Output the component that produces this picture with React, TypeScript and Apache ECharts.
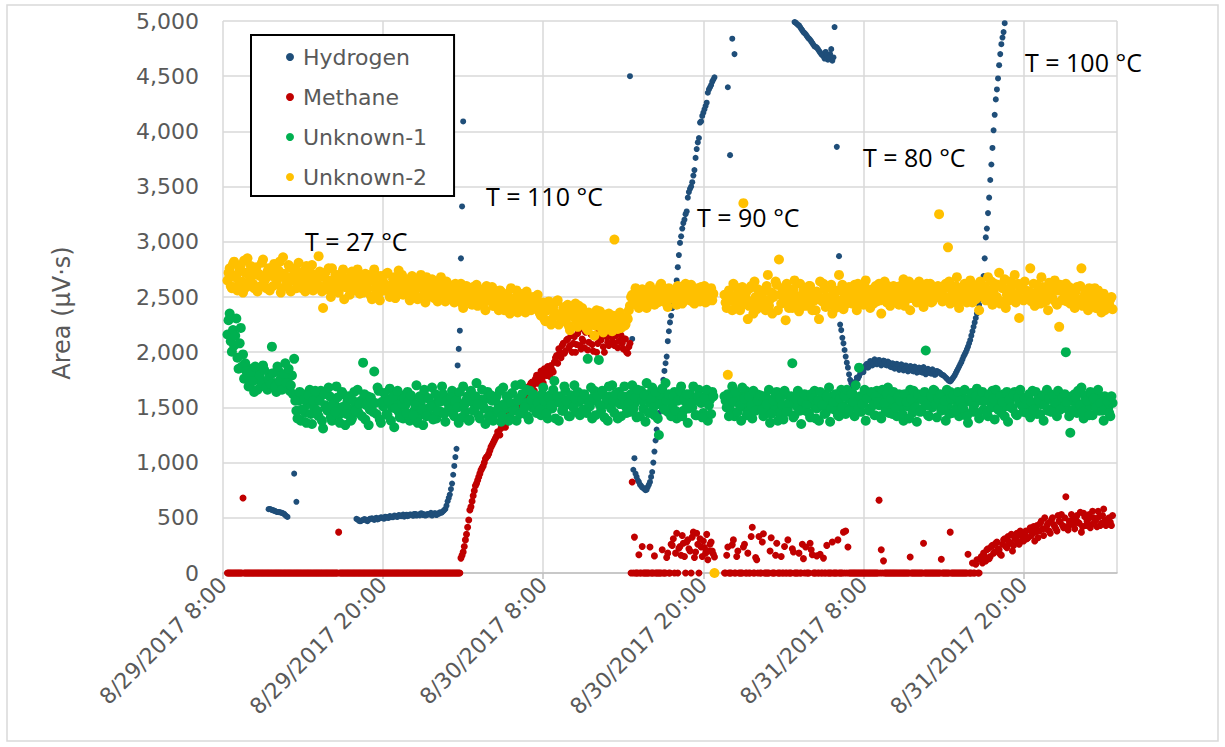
import React, { useEffect, useRef } from "react";
import * as echarts from "echarts";

// GC peak areas. Injections run every 5 minutes from 8/29/2017 8:20; each
// series is kept as two interleaved runs: the on-the-10-minute injections and
// the ones 5 minutes after them. Time axis is in hours after 8/29/2017 8:00.
const START_HOUR = 1 / 3;
const STEP_HOUR = 1 / 6;
const X_MAX_HOURS = 67;
const X_STEP_HOURS = 12;
const Y_MAX = 5000;
const Y_STEP = 500;

const _ = null;

const hydrogen: (number | null)[] = [
  _, _, _, _, _, _, _, _, _, _, _, _, _, _, _, _, _, _, _, 580,
  572, 565, 555, 553, 548, 540, 525, 508, _, _, 900, 645, _, _, _, _, _, _, _, _,
  _, _, _, _, _, _, _, _, _, _, _, _, _, _, _, _, _, _, 490, 475,
  470, 480, 485, 470, 490, 495, 480, 500, 490, 505, 495, 510, 500, 515, 505, 520, 510, 525, 515, 530,
  520, 515, 530, 525, 535, 520, 530, 540, 525, 520, 535, 530, 520, 540, 525, 535, 545, 560, 580, 650,
  710, 810, 970, 1125, 2030, 2850, 4090, _, _, _, _, _, _, _, _, _, _, _, _, _,
  _, _, _, _, _, _, _, _, _, _, _, _, _, _, _, _, _, _, _, _,
  _, _, _, _, _, _, _, _, _, _, _, _, _, _, _, _, _, _, _, _,
  _, _, _, _, _, _, _, _, _, _, _, _, _, _, _, _, _, _, _, _,
  _, 4500, 2120, 1040, 870, 825, 790, 770, 750, 780, 825, 915, 1100, 1300, 1450, 1600, 1750, 1900, 2100, 2270,
  2400, 2500, 2650, 2880, 3050, 3170, 3250, 3400, 3480, 3540, 3650, 3840, 3940, 4090, 4170, 4230, 4350, 4400, 4450, 4490,
  _, _, _, _, _, 4400, 3785, 4840, 4700, _, _, _, _, _, _, _, _, _, _, _,
  _, _, _, _, _, _, _, _, _, _, _, _, _, _, _, 4990, 4975, 4960, 4930, 4900,
  4880, 4850, 4830, 4800, 4770, 4760, 4730, 4700, 4680, 4720, 4650, 4700, 4640, 4945, 3860, 2870, 2200, 2080, 1960, 1860,
  1750, 1690, 1720, 1770, 1780, 1840, 1820, 1880, 1860, 1920, 1880, 1935, 1890, 1930, 1880, 1925, 1885, 1915, 1870, 1900,
  1850, 1895, 1840, 1890, 1835, 1880, 1825, 1875, 1830, 1870, 1815, 1860, 1820, 1865, 1800, 1850, 1810, 1845, 1795, 1830,
  1820, 1800, 1790, 1770, 1750, 1735, 1760, 1790, 1830, 1870, 1910, 1960, 2000, 2050, 2110, 2190, 2270, 2350, 2430, 2550,
  2690, 3040, 3260, 3560, 3850, 4150, 4380, 4600, 4790, 4900, _, _, _, _, _, _, _, _, _, _,
  _, _, _, _, _, _, _, _, _, _, _, _, _, _, _, _, _, _, _, _,
  _, _, _, _, _, _, _, _, _, _, _, _, _, _, _, _, _, _, _,
];

const hydrogenMid: (number | null)[] = [
  _, _, _, _, _, _, _, _, _, _, _, _, _, _, _, _, _, _, 578, 575,
  568, 560, 552, 550, 545, 535, 515, _, _, _, _, _, _, _, _, _, _, _, _, _,
  _, _, _, _, _, _, _, _, _, _, _, _, _, _, _, _, _, _, 485, 470,
  478, 488, 475, 482, 492, 488, 495, 485, 498, 502, 492, 508, 498, 512, 505, 518, 508, 522, 515, 510,
  528, 520, 530, 518, 535, 528, 522, 538, 532, 525, 530, 545, 528, 540, 538, 550, 550, 570, 610, 680,
  760, 890, 1050, 1880, 2195, 3320, _, _, _, _, _, _, _, _, _, _, _, _, _, _,
  _, _, _, _, _, _, _, _, _, _, _, _, _, _, _, _, _, _, _, _,
  _, _, _, _, _, _, _, _, _, _, _, _, _, _, _, _, _, _, _, _,
  _, _, _, _, _, _, _, _, _, _, _, _, _, _, _, _, _, _, _, _,
  _, _, 935, 900, 840, 800, 775, 760, 755, 800, 870, 1000, 1200, 1380, 1520, 1680, 1830, 1960, 2190, 2330,
  2450, 2560, 2770, 2990, 3120, 3200, 3275, 3450, 3500, 3600, 3760, 3900, 4080, 4140, 4200, 4260, 4380, 4420, 4470, _,
  _, _, _, _, _, _, _, _, _, _, _, _, _, _, _, _, _, _, _, _,
  _, _, _, _, _, _, _, _, _, _, _, _, _, _, _, 4985, 4965, 4945, 4915, 4890,
  4865, 4840, 4815, 4785, 4765, 4745, 4715, 4690, 4660, 4690, 4670, 4745, 4670, _, _, 2250, 2130, 2020, 1905, 1800,
  1720, 1700, 1735, 1760, 1805, 1830, 1855, 1895, 1870, 1915, 1895, 1920, 1900, 1915, 1895, 1920, 1880, 1905, 1865, 1895,
  1860, 1885, 1850, 1880, 1845, 1870, 1835, 1870, 1825, 1860, 1820, 1855, 1815, 1850, 1810, 1840, 1805, 1830, 1800, 1820,
  1810, 1795, 1780, 1760, 1740, 1745, 1775, 1810, 1850, 1890, 1935, 1980, 2025, 2080, 2150, 2230, 2310, 2385, 2480, 2620,
  2850, 3120, 3400, 3700, 4010, 4290, 4480, 4700, 4850, 4980, _, _, _, _, _, _, _, _, _, _,
  _, _, _, _, _, _, _, _, _, _, _, _, _, _, _, _, _, _, _, _,
  _, _, _, _, _, _, _, _, _, _, _, _, _, _, _, _, _, _,
];

const methane: (number | null)[] = [
  0, 0, 0, 0, 0, 0, 0, 680, 0, 0, 0, 0, 0, 0, 0, 0, 0, 0, 0, 0,
  0, 0, 0, 0, 0, 0, 0, 0, 0, 0, 0, 0, 0, 0, 0, 0, 0, 0, 0, 0,
  0, 0, 0, 0, 0, 0, 0, 0, 0, 0, 370, 0, 0, 0, 0, 0, 0, 0, 0, 0,
  0, 0, 0, 0, 0, 0, 0, 0, 0, 0, 0, 0, 0, 0, 0, 0, 0, 0, 0, 0,
  0, 0, 0, 0, 0, 0, 0, 0, 0, 0, 0, 0, 0, 0, 0, 0, 0, 0, 0, 0,
  0, 0, 0, 0, 0, 135, 190, 300, 415, 570, 650, 745, 810, 870, 930, 970, 1035, 1060, 1110, 1160,
  1200, 1240, 1260, 1310, 1350, 1320, 1420, 1440, 1400, 1520, 1470, 1590, 1540, 1630, 1660, 1600, 1700, 1730, 1650, 1790,
  1760, 1830, 1720, 1800, 1870, 1780, 1840, 1910, 1970, 2030, 1950, 2080, 2010, 2120, 2060, 2000, 2140, 2070, 2200, 2030,
  2100, 2180, 2020, 2230, 2070, 2150, 2000, 2200, 2110, 2050, 2170, 2090, 2240, 2130, 2060, 2190, 2100, 2150, 2030, 2120,
  1990, 2080, 825, 325, 0, 165, 0, 0, 0, 0, 235, 0, 155, 0, 0, 0, 0, 0, 180, 0,
  250, 0, 360, 225, 160, 270, 0, 300, 200, 325, 140, 360, 0, 235, 290, 180, 120, 260, 200, 145,
  _, _, _, _, 0, 235, 0, 255, 0, 150, 0, 0, 235, 0, 180, 0, 415, 0, 120, 330,
  0, 355, 0, 0, 200, 0, 0, 270, 0, 150, 0, 0, 300, 0, 220, 0, 0, 180, 0, 130,
  235, 0, 270, 165, 0, 155, 0, 0, 135, 0, 0, 0, 280, 0, 0, 0, 0, 370, 380, 235,
  0, 0, 0, 0, 0, 0, 0, 0, 0, 0, 0, 0, 0, 660, 210, 110, 0, 0, 0, 0,
  0, 0, 0, 0, 0, 0, 0, 145, 0, 0, 0, 0, 0, 270, 0, 0, 0, 0, 0, 0,
  0, 125, 0, 0, 0, 370, 0, 0, 0, 0, 0, 0, 0, 170, 0, 90, 0, 120, 0, 150,
  180, 110, 220, 150, 250, 190, 280, 210, 160, 300, 240, 330, 270, 200, 310, 360, 260, 340, 290, 380,
  320, 410, 360, 290, 430, 380, 470, 340, 400, 450, 360, 500, 420, 380, 470, 530, 410, 690, 390, 440,
  480, 400, 520, 450, 370, 540, 430, 490, 410, 560, 470, 420, 510, 450, 580, 430, 490, 460, 520,
];

const methaneMid: (number | null)[] = [
  0, 0, 0, 0, 0, 0, 0, 0, 0, 0, 0, 0, 0, 0, 0, 0, 0, 0, 0, 0,
  0, 0, 0, 0, 0, 0, 0, 0, 0, 0, 0, 0, 0, 0, 0, 0, 0, 0, 0, 0,
  0, 0, 0, 0, 0, 0, 0, 0, 0, 0, 0, 0, 0, 0, 0, 0, 0, 0, 0, 0,
  0, 0, 0, 0, 0, 0, 0, 0, 0, 0, 0, 0, 0, 0, 0, 0, 0, 0, 0, 0,
  0, 0, 0, 0, 0, 0, 0, 0, 0, 0, 0, 0, 0, 0, 0, 0, 0, 0, 0, 0,
  0, 0, 0, 0, 0, 160, 240, 350, 480, 600, 700, 790, 840, 900, 950, 1000, 1050, 1080, 1140, 1180,
  1220, 1280, 1250, 1340, 1380, 1360, 1450, 1400, 1480, 1500, 1550, 1520, 1610, 1580, 1680, 1640, 1720, 1700, 1760, 1720,
  1800, 1760, 1850, 1790, 1830, 1880, 1820, 1950, 1900, 2000, 2060, 1990, 2110, 2040, 2150, 2080, 2000, 2170, 2060, 2120,
  2040, 2210, 2090, 2160, 2010, 2250, 2080, 2130, 2180, 2000, 2140, 2060, 2200, 2090, 2150, 2040, 2170, 2080, 2120, 2000,
  2050, 0, 0, 0, 0, 0, 240, 0, 0, 0, 0, 0, 0, 0, 0, 210, 0, 140, 0, 260,
  310, 180, 0, 240, 340, 150, 280, 220, 0, 370, 190, 260, 310, 150, 230, 350, 200, 280, 170, _,
  _, _, _, 0, 160, 0, 0, 300, 0, 200, 0, 0, 260, 0, 0, 330, 0, 140, 0, 0,
  280, 0, 0, 0, 320, 0, 160, 0, 0, 0, 240, 0, 0, 0, 190, 0, 0, 0, 260, 0,
  0, 0, 210, 0, 0, 0, 170, 0, 0, 250, 0, 0, 0, 0, 300, 0, 0, 0, 0, 0,
  0, 0, 0, 0, 0, 0, 0, 0, 0, 0, 0, 0, 0, 0, 0, 0, 0, 0, 0, 0,
  0, 0, 0, 0, 0, 0, 0, 0, 0, 0, 0, 0, 0, 0, 0, 0, 0, 0, 0, 0,
  0, 0, 0, 0, 0, 0, 0, 0, 0, 0, 0, 0, 0, 0, 0, 0, 80, 0, 130, 90,
  150, 210, 130, 240, 180, 270, 220, 170, 260, 310, 230, 280, 350, 250, 320, 280, 380, 300, 350, 310,
  390, 340, 420, 370, 320, 450, 400, 500, 430, 380, 480, 440, 400, 520, 460, 430, 500, 420, 470, 530,
  440, 500, 460, 550, 420, 510, 470, 530, 440, 500, 480, 560, 430, 520, 470, 440, 500, 430,
];

const unknown1: (number | null)[] = [
  2160, 2350, 2005, 2060, 2305, 1850, 2220, 1980, 1900, 1780, 1700, 1850, 1640, 1760, 1820, 1690, 1880, 1730, 1660, 1800,
  2050, 1720, 1640, 1830, 1760, 1680, 1900, 1740, 1650, 1790, 1940, 1470, 1560, 1380, 1620, 1450, 1530, 1660, 1350, 1500,
  1580, 1420, 1650, 1310, 1520, 1470, 1600, 1380, 1540, 1690, 1430, 1500, 1620, 1340, 1560, 1480, 1400, 1640, 1520, 1450,
  1560, 1905, 1390, 1600, 1480, 1530, 1825, 1440, 1650, 1360, 1510, 1580, 1430, 1670, 1500, 1320, 1550, 1460, 1610, 1400,
  1520, 1640, 1380, 1560, 1470, 1700, 1420, 1550, 1340, 1600, 1490, 1430, 1680, 1530, 1400, 1580, 1460, 1620, 1370, 1540,
  1500, 1650, 1420, 1580, 1360, 1530, 1690, 1460, 1600, 1390, 1550, 1480, 1720, 1430, 1570, 1510, 1350, 1640, 1470, 1560,
  1440, 1600, 1520, 1370, 1680, 1490, 1560, 1410, 1630, 1500, 1380, 1580, 1710, 1460, 1540, 1420, 1650, 1500, 1600, 1450,
  1560, 1430, 1680, 1520, 1400, 1610, 1490, 1740, 1550, 1380, 1600, 1470, 1650, 1530, 1420, 1580, 1700, 1460, 1550, 1620,
  1480, 1590, 1940, 1510, 1400, 1650, 1560, 1930, 1470, 1620, 1530, 1380, 1600, 1700, 1450, 1550, 1640, 1420, 1580, 1510,
  1600, 1460, 1700, 1530, 1410, 1580, 1650, 1490, 1370, 1620, 1540, 1680, 1430, 1560, 1250, 1610, 1500, 1720, 1460, 1580,
  1520, 1640, 1400, 1590, 1690, 1470, 1550, 1360, 1620, 1500, 1580, 1430, 1660, 1540, 1450, 1600, 1380, 1570, 1640, _,
  _, _, _, _, 1560, 1620, 1480, 1690, 1420, 1550, 1600, 1380, 1510, 1650, 1460, 1570, 1400, 1530, 1620, 1490,
  1550, 1420, 1600, 1480, 1360, 1570, 1510, 1640, 1450, 1530, 1390, 1620, 1480, 1560, 1900, 1430, 1510, 1600, 1350, 1540,
  1470, 1580, 1410, 1530, 1650, 1490, 1380, 1560, 1620, 1450, 1520, 1370, 1600, 1480, 1550, 1420, 1660, 1510, 1440, 1580,
  1500, 1630, 1420, 1560, 1860, 1460, 1540, 1380, 1610, 1490, 1570, 1430, 1650, 1520, 1400, 1590, 1470, 1680, 1530, 1440,
  1560, 1420, 1620, 1500, 1380, 1590, 1510, 1660, 1450, 1540, 1370, 1600, 1480, 1560, 2015, 1430, 1580, 1500, 1650, 1410,
  1540, 1470, 1600, 1380, 1520, 1640, 1450, 1570, 1500, 1420, 1610, 1480, 1550, 1360, 1590, 1460, 1530, 1670, 1400, 1560,
  1480, 1600, 1420, 1550, 1650, 1390, 1520, 1580, 1450, 1620, 1510, 1370, 1570, 1490, 1640, 1430, 1540, 1600, 1460, 1520,
  1580, 1410, 1650, 1500, 1440, 1600, 1530, 1380, 1560, 1470, 1620, 1490, 1550, 1420, 1600, 1520, 1540, 2000, 1480, 1270,
  1560, 1620, 1450, 1530, 1680, 1400, 1580, 1500, 1640, 1430, 1550, 1610, 1470, 1530, 1380, 1590, 1490, 1420, 1540,
];

const unknown1Mid: (number | null)[] = [
  2290, 2100, 2200, 2150, 1950, 2080, 1870, 1760, 1830, 1690, 1810, 1740, 1870, 1660, 1790, 1720, 1840, 1680, 1760, 1710,
  1810, 1690, 1870, 1740, 1660, 1800, 1720, 1850, 1700, 1620, 1560, 1400, 1640, 1480, 1570, 1360, 1610, 1440, 1560, 1650,
  1470, 1560, 1380, 1620, 1490, 1680, 1410, 1530, 1460, 1590, 1360, 1640, 1510, 1440, 1600, 1380, 1560, 1470, 1660, 1530,
  1420, 1620, 1520, 1340, 1590, 1460, 1540, 1680, 1390, 1550, 1630, 1440, 1560, 1380, 1600, 1490, 1650, 1410, 1530, 1580,
  1450, 1560, 1610, 1430, 1520, 1360, 1600, 1480, 1660, 1420, 1580, 1510, 1390, 1620, 1470, 1550, 1690, 1440, 1560, 1480,
  1590, 1440, 1560, 1500, 1640, 1410, 1520, 1570, 1380, 1650, 1470, 1600, 1530, 1400, 1660, 1490, 1580, 1420, 1610, 1380,
  1570, 1480, 1650, 1420, 1530, 1600, 1380, 1540, 1470, 1700, 1560, 1440, 1620, 1500, 1660, 1390, 1570, 1620, 1480, 1540,
  1480, 1620, 1560, 1450, 1590, 1520, 1660, 1400, 1600, 1540, 1470, 1690, 1560, 1420, 1610, 1500, 1580, 1640, 1430, 1570,
  1620, 1450, 1540, 1680, 1590, 1430, 1600, 1520, 1650, 1410, 1580, 1690, 1490, 1560, 1620, 1400, 1530, 1600, 1690, 1450,
  1540, 1620, 1480, 1590, 1660, 1420, 1560, 1610, 1720, 1450, 1580, 1500, 1640, 1400, 1530, 1670, 1480, 1560, 1620, 1420,
  1600, 1470, 1560, 1650, 1420, 1580, 1620, 1490, 1540, 1690, 1430, 1600, 1550, 1410, 1580, 1660, 1520, 1440, 1600, _,
  _, _, _, 1600, 1500, 1420, 1590, 1550, 1640, 1460, 1520, 1680, 1580, 1430, 1600, 1520, 1650, 1470, 1560, 1610,
  1480, 1600, 1530, 1660, 1440, 1560, 1620, 1380, 1580, 1520, 1650, 1460, 1540, 1600, 1410, 1580, 1650, 1470, 1560, 1620,
  1520, 1450, 1620, 1580, 1400, 1560, 1640, 1520, 1440, 1600, 1680, 1490, 1550, 1620, 1430, 1580, 1500, 1600, 1660, 1470,
  1620, 1550, 1700, 1480, 1600, 1530, 1660, 1580, 1470, 1640, 1520, 1600, 1550, 1420, 1660, 1540, 1620, 1450, 1580, 1640,
  1500, 1600, 1560, 1440, 1620, 1550, 1400, 1580, 1650, 1500, 1620, 1460, 1570, 1640, 1520, 1420, 1600, 1660, 1530, 1580,
  1620, 1500, 1560, 1660, 1440, 1580, 1610, 1470, 1640, 1560, 1500, 1660, 1420, 1580, 1630, 1510, 1600, 1450, 1570, 1640,
  1560, 1450, 1620, 1500, 1580, 1660, 1480, 1600, 1550, 1420, 1640, 1570, 1500, 1610, 1440, 1590, 1660, 1510, 1580, 1450,
  1620, 1550, 1480, 1640, 1570, 1440, 1610, 1520, 1660, 1580, 1460, 1600, 1540, 1650, 1480, 1590, 1620, 1550, 1420, 1600,
  1480, 1590, 1650, 1520, 1460, 1610, 1560, 1430, 1620, 1580, 1500, 1660, 1540, 1470, 1600, 1560, 1450, 1600,
];

const unknown2: (number | null)[] = [
  2650, 2760, 2580, 2820, 2700, 2610, 2790, 2540, 2720, 2850, 2630, 2690, 2580, 2770, 2710, 2600, 2840, 2660, 2730, 2560,
  2690, 2800, 2620, 2740, 2540, 2860, 2680, 2600, 2770, 2650, 2720, 2580, 2810, 2670, 2730, 2550, 2700, 2640, 2790, 2610,
  2680, 2870, 2590, 2400, 2720, 2650, 2560, 2760, 2610, 2700, 2540, 2680, 2750, 2590, 2640, 2520, 2730, 2670, 2580, 2700,
  2620, 2540, 2710, 2580, 2660, 2480, 2750, 2600, 2530, 2690, 2640, 2560, 2720, 2500, 2610, 2680, 2550, 2740, 2590, 2520,
  2640, 2580, 2470, 2690, 2550, 2620, 2500, 2700, 2580, 2450, 2610, 2540, 2660, 2490, 2590, 2530, 2680, 2560, 2460, 2620,
  2540, 2600, 2450, 2530, 2480, 2620, 2400, 2550, 2500, 2580, 2430, 2520, 2610, 2460, 2490, 2570, 2380, 2530, 2470, 2590,
  2420, 2500, 2380, 2550, 2460, 2410, 2530, 2350, 2480, 2440, 2560, 2400, 2470, 2520, 2360, 2450, 2500, 2390, 2430, 2480,
  2400, 2330, 2450, 2280, 2380, 2420, 2300, 2360, 2460, 2250, 2350, 2400, 2300, 2430, 2200, 2340, 2380, 2280, 2420, 2310,
  2250, 2350, 2200, 2320, 2280, 2150, 2380, 2260, 2300, 2180, 2340, 2240, 2300, 2190, 3020, 2280, 2330, 2220, 2290, 2250,
  2300, 2420, 2520, 2460, 2560, 2400, 2490, 2540, 2450, 2510, 2600, 2470, 2430, 2550, 2500, 2620, 2460, 2520, 2410, 2560,
  2490, 2540, 2430, 2580, 2500, 2460, 2620, 2510, 2470, 2560, 2440, 2530, 2500, 2590, 2480, 2450, 2550, 2520, 2470, 0,
  _, _, _, _, 2450, 1795, 2520, 2380, 2600, 2470, 2550, 2420, 3350, 2500, 2300, 2580, 2460, 2640, 2390, 2510,
  2430, 2560, 2380, 2700, 2480, 2350, 2520, 2610, 2840, 2440, 2500, 2290, 2570, 2460, 2400, 2650, 2510, 2370, 2480, 2560,
  2420, 2530, 2600, 2380, 2470, 2550, 2300, 2490, 2620, 2410, 2460, 2580, 2350, 2500, 2440, 2700, 2460, 2390, 2540, 2480,
  2520, 2440, 2610, 2380, 2500, 2560, 2430, 2650, 2480, 2400, 2570, 2510, 2460, 2620, 2350, 2530, 2490, 2600, 2420, 2550,
  2480, 2590, 2430, 2520, 2660, 2470, 2550, 2380, 2600, 2500, 2450, 2640, 2530, 2410, 2570, 2490, 2620, 2460, 2540, 2500,
  3250, 2580, 2470, 2620, 2950, 2440, 2560, 2510, 2680, 2400, 2540, 2600, 2480, 2530, 2650, 2450, 2570, 2520, 2380, 2610,
  2540, 2470, 2680, 2560, 2430, 2620, 2500, 2720, 2460, 2580, 2400, 2550, 2640, 2490, 2700, 2520, 2310, 2600, 2470, 2560,
  2480, 2760, 2530, 2420, 2610, 2500, 2680, 2450, 2570, 2380, 2540, 2490, 2650, 2430, 2230, 2560, 2470, 2620, 2510, 2440,
  2520, 2400, 2590, 2470, 2760, 2430, 2550, 2380, 2500, 2450, 2580, 2400, 2490, 2360, 2530, 2450, 2420, 2480, 2390,
];

const unknown2Mid: (number | null)[] = [
  2720, 2600, 2800, 2680, 2560, 2750, 2640, 2830, 2590, 2700, 2780, 2620, 2740, 2550, 2690, 2810, 2640, 2580, 2760, 2700,
  2600, 2740, 2660, 2820, 2580, 2710, 2630, 2790, 2550, 2690, 2760, 2620, 2700, 2580, 2650, 2780, 2600, 2720, 2560, 2680,
  2620, 2730, 2550, 2680, 2610, 2760, 2500, 2650, 2700, 2570, 2640, 2720, 2480, 2660, 2590, 2700, 2560, 2620, 2750, 2530,
  2680, 2590, 2630, 2700, 2510, 2650, 2580, 2690, 2470, 2620, 2560, 2710, 2600, 2530, 2660, 2490, 2640, 2580, 2700, 2610,
  2550, 2660, 2600, 2520, 2650, 2480, 2590, 2640, 2530, 2680, 2500, 2600, 2550, 2620, 2460, 2650, 2580, 2520, 2640, 2540,
  2480, 2560, 2620, 2500, 2580, 2440, 2520, 2600, 2460, 2540, 2590, 2480, 2420, 2560, 2510, 2450, 2600, 2490, 2540, 2420,
  2520, 2440, 2560, 2470, 2380, 2510, 2450, 2580, 2400, 2490, 2360, 2530, 2460, 2410, 2550, 2470, 2380, 2500, 2440, 2520,
  2350, 2420, 2300, 2380, 2460, 2250, 2410, 2340, 2470, 2330, 2280, 2410, 2360, 2240, 2390, 2320, 2440, 2230, 2350, 2400,
  2300, 2220, 2360, 2270, 2330, 2240, 2290, 2370, 2200, 2310, 2260, 2350, 2230, 2330, 2270, 2210, 2360, 2300, 2240, 2320,
  2380, 2500, 2450, 2580, 2500, 2440, 2570, 2510, 2400, 2540, 2480, 2560, 2520, 2450, 2600, 2490, 2530, 2440, 2580, 2500,
  2550, 2470, 2600, 2520, 2440, 2580, 2490, 2550, 2610, 2450, 2520, 2580, 2460, 2540, 2600, 2500, 2470, 2580, 2530, _,
  _, _, _, 2520, 2400, 2560, 2470, 2620, 2440, 2530, 2380, 2590, 2480, 2550, 2420, 2600, 2350, 2500, 2570, 2440,
  2530, 2470, 2600, 2420, 2540, 2500, 2640, 2380, 2520, 2580, 2460, 2620, 2400, 2530, 2570, 2450, 2500, 2620, 2420, 2550,
  2490, 2600, 2450, 2550, 2380, 2520, 2640, 2460, 2570, 2500, 2430, 2610, 2520, 2400, 2560, 2470, 2610, 2530, 2440, 2590,
  2460, 2560, 2500, 2620, 2440, 2540, 2600, 2480, 2560, 2520, 2440, 2600, 2530, 2470, 2580, 2640, 2450, 2550, 2510, 2600,
  2540, 2460, 2600, 2500, 2420, 2580, 2640, 2490, 2530, 2610, 2460, 2550, 2590, 2480, 2620, 2520, 2450, 2580, 2500, 2600,
  2520, 2460, 2580, 2500, 2640, 2470, 2530, 2600, 2440, 2560, 2500, 2620, 2450, 2570, 2520, 2610, 2480, 2550, 2640, 2500,
  2600, 2520, 2470, 2640, 2550, 2500, 2610, 2440, 2580, 2660, 2520, 2470, 2590, 2530, 2450, 2620, 2560, 2480, 2640, 2510,
  2550, 2460, 2620, 2500, 2560, 2440, 2590, 2520, 2470, 2630, 2500, 2580, 2450, 2560, 2610, 2480, 2540, 2460, 2590, 2520,
  2460, 2550, 2480, 2600, 2420, 2520, 2470, 2580, 2440, 2510, 2400, 2560, 2450, 2500, 2380, 2470, 2430, 2500,
];

const seriesNames = ["Hydrogen", "Methane", "Unknown-1", "Unknown-2"];
const seriesColors = ["#1F4E79", "#C00000", "#00B050", "#FFC000"];
const seriesSizes = [6, 7, 10, 10];
const seriesRuns = [
  [hydrogen, hydrogenMid],
  [methane, methaneMid],
  [unknown1, unknown1Mid],
  [unknown2, unknown2Mid],
];

const annotations = [
  { text: "T = 27 °C", x: 305, y: 241 },
  { text: "T = 110 °C", x: 486, y: 196 },
  { text: "T = 90 °C", x: 697, y: 217 },
  { text: "T = 80 °C", x: 863, y: 157 },
  { text: "T = 100 °C", x: 1025, y: 62 },
];

const AXIS_FONT = "DejaVu Sans";
const GREY_TEXT = "#595959";

// [hours, area] points for one run; offset is in sampling steps.
function toPoints(values: (number | null)[], offset: number) {
  const pts: [number, number][] = [];
  values.forEach((v, i) => {
    if (v !== null && v !== undefined) pts.push([START_HOUR + (i + offset) * STEP_HOUR, v]);
  });
  return pts;
}

function formatStamp(h: number) {
  const total = 8 + h;
  const day = 29 + Math.floor(total / 24);
  const hr = Math.round(total % 24);
  return `8/${day}/2017 ${hr}:00`;
}

export default function App() {
  const ref = useRef<HTMLDivElement>(null);

  useEffect(() => {
    if (!ref.current) return;
    const chart = echarts.init(ref.current, undefined, { renderer: "svg" });

    chart.setOption({
      animation: false,
      backgroundColor: "#ffffff",
      grid: { left: 223, right: 108, top: 21, bottom: 174, containLabel: false },
      xAxis: {
        type: "value",
        min: 0,
        max: X_MAX_HOURS,
        interval: X_STEP_HOURS,
        axisLine: { show: true, lineStyle: { color: "#bfbfbf", width: 1.5 } },
        axisTick: { show: true, length: 6, lineStyle: { color: "#bfbfbf", width: 1.5 } },
        splitLine: { show: true, lineStyle: { color: "#d9d9d9", width: 1.5 } },
        axisLabel: {
          rotate: 45,
          margin: 8,
          showMaxLabel: false,
          fontFamily: AXIS_FONT,
          fontSize: 22,
          color: GREY_TEXT,
          formatter: (v: number) => formatStamp(v),
        },
      },
      yAxis: {
        type: "value",
        min: 0,
        max: Y_MAX,
        interval: Y_STEP,
        axisLine: { show: false },
        axisTick: { show: false },
        splitLine: { show: true, lineStyle: { color: "#d9d9d9", width: 1.5 } },
        axisLabel: {
          margin: 24,
          fontFamily: AXIS_FONT,
          fontSize: 22,
          color: GREY_TEXT,
          formatter: (v: number) => v.toLocaleString("en-US"),
        },
      },
      legend: {
        orient: "vertical",
        left: 251,
        top: 35,
        padding: [9, 27, 6, 35],
        itemGap: 14,
        itemWidth: 8,
        itemHeight: 8,
        icon: "circle",
        borderColor: "#000000",
        borderWidth: 2,
        backgroundColor: "#ffffff",
        selectedMode: false,
        data: seriesNames,
        textStyle: {
          fontFamily: AXIS_FONT,
          fontSize: 22,
          lineHeight: 26,
          color: GREY_TEXT,
          padding: [0, 0, 0, 4],
        },
      },
      series: seriesNames.map((name, k) => ({
        name,
        type: "scatter",
        data: [...toPoints(seriesRuns[k][0], 0), ...toPoints(seriesRuns[k][1], 0.5)],
        symbol: "circle",
        symbolSize: seriesSizes[k],
        itemStyle: { color: seriesColors[k], opacity: 1 },
        emphasis: { disabled: true },
        silent: true,
      })),
      graphic: [
        {
          type: "rect",
          shape: { x: 7, y: 5, width: 1211, height: 736 },
          style: { fill: "none", stroke: "#d9d9d9", lineWidth: 1.5 },
          silent: true,
        },
        {
          type: "text",
          x: 62,
          y: 313,
          rotation: Math.PI / 2,
          style: {
            text: "Area (µV·s)",
            align: "center",
            verticalAlign: "middle",
            fontFamily: AXIS_FONT,
            fontSize: 24,
            fill: GREY_TEXT,
          },
          silent: true,
        },
        ...annotations.map((a) => ({
          type: "text",
          x: a.x,
          y: a.y,
          z: 100,
          style: {
            text: a.text,
            align: "left",
            verticalAlign: "middle",
            fontFamily: "Open Sans",
            fontSize: 25,
            fill: "#000000",
          },
          silent: true,
        })),
      ],
    });

    return () => chart.dispose();
  }, []);

  return (
    <div
      ref={ref}
      style={{ position: "fixed", left: 0, top: 0, width: 1225, height: 747 }}
    />
  );
}
